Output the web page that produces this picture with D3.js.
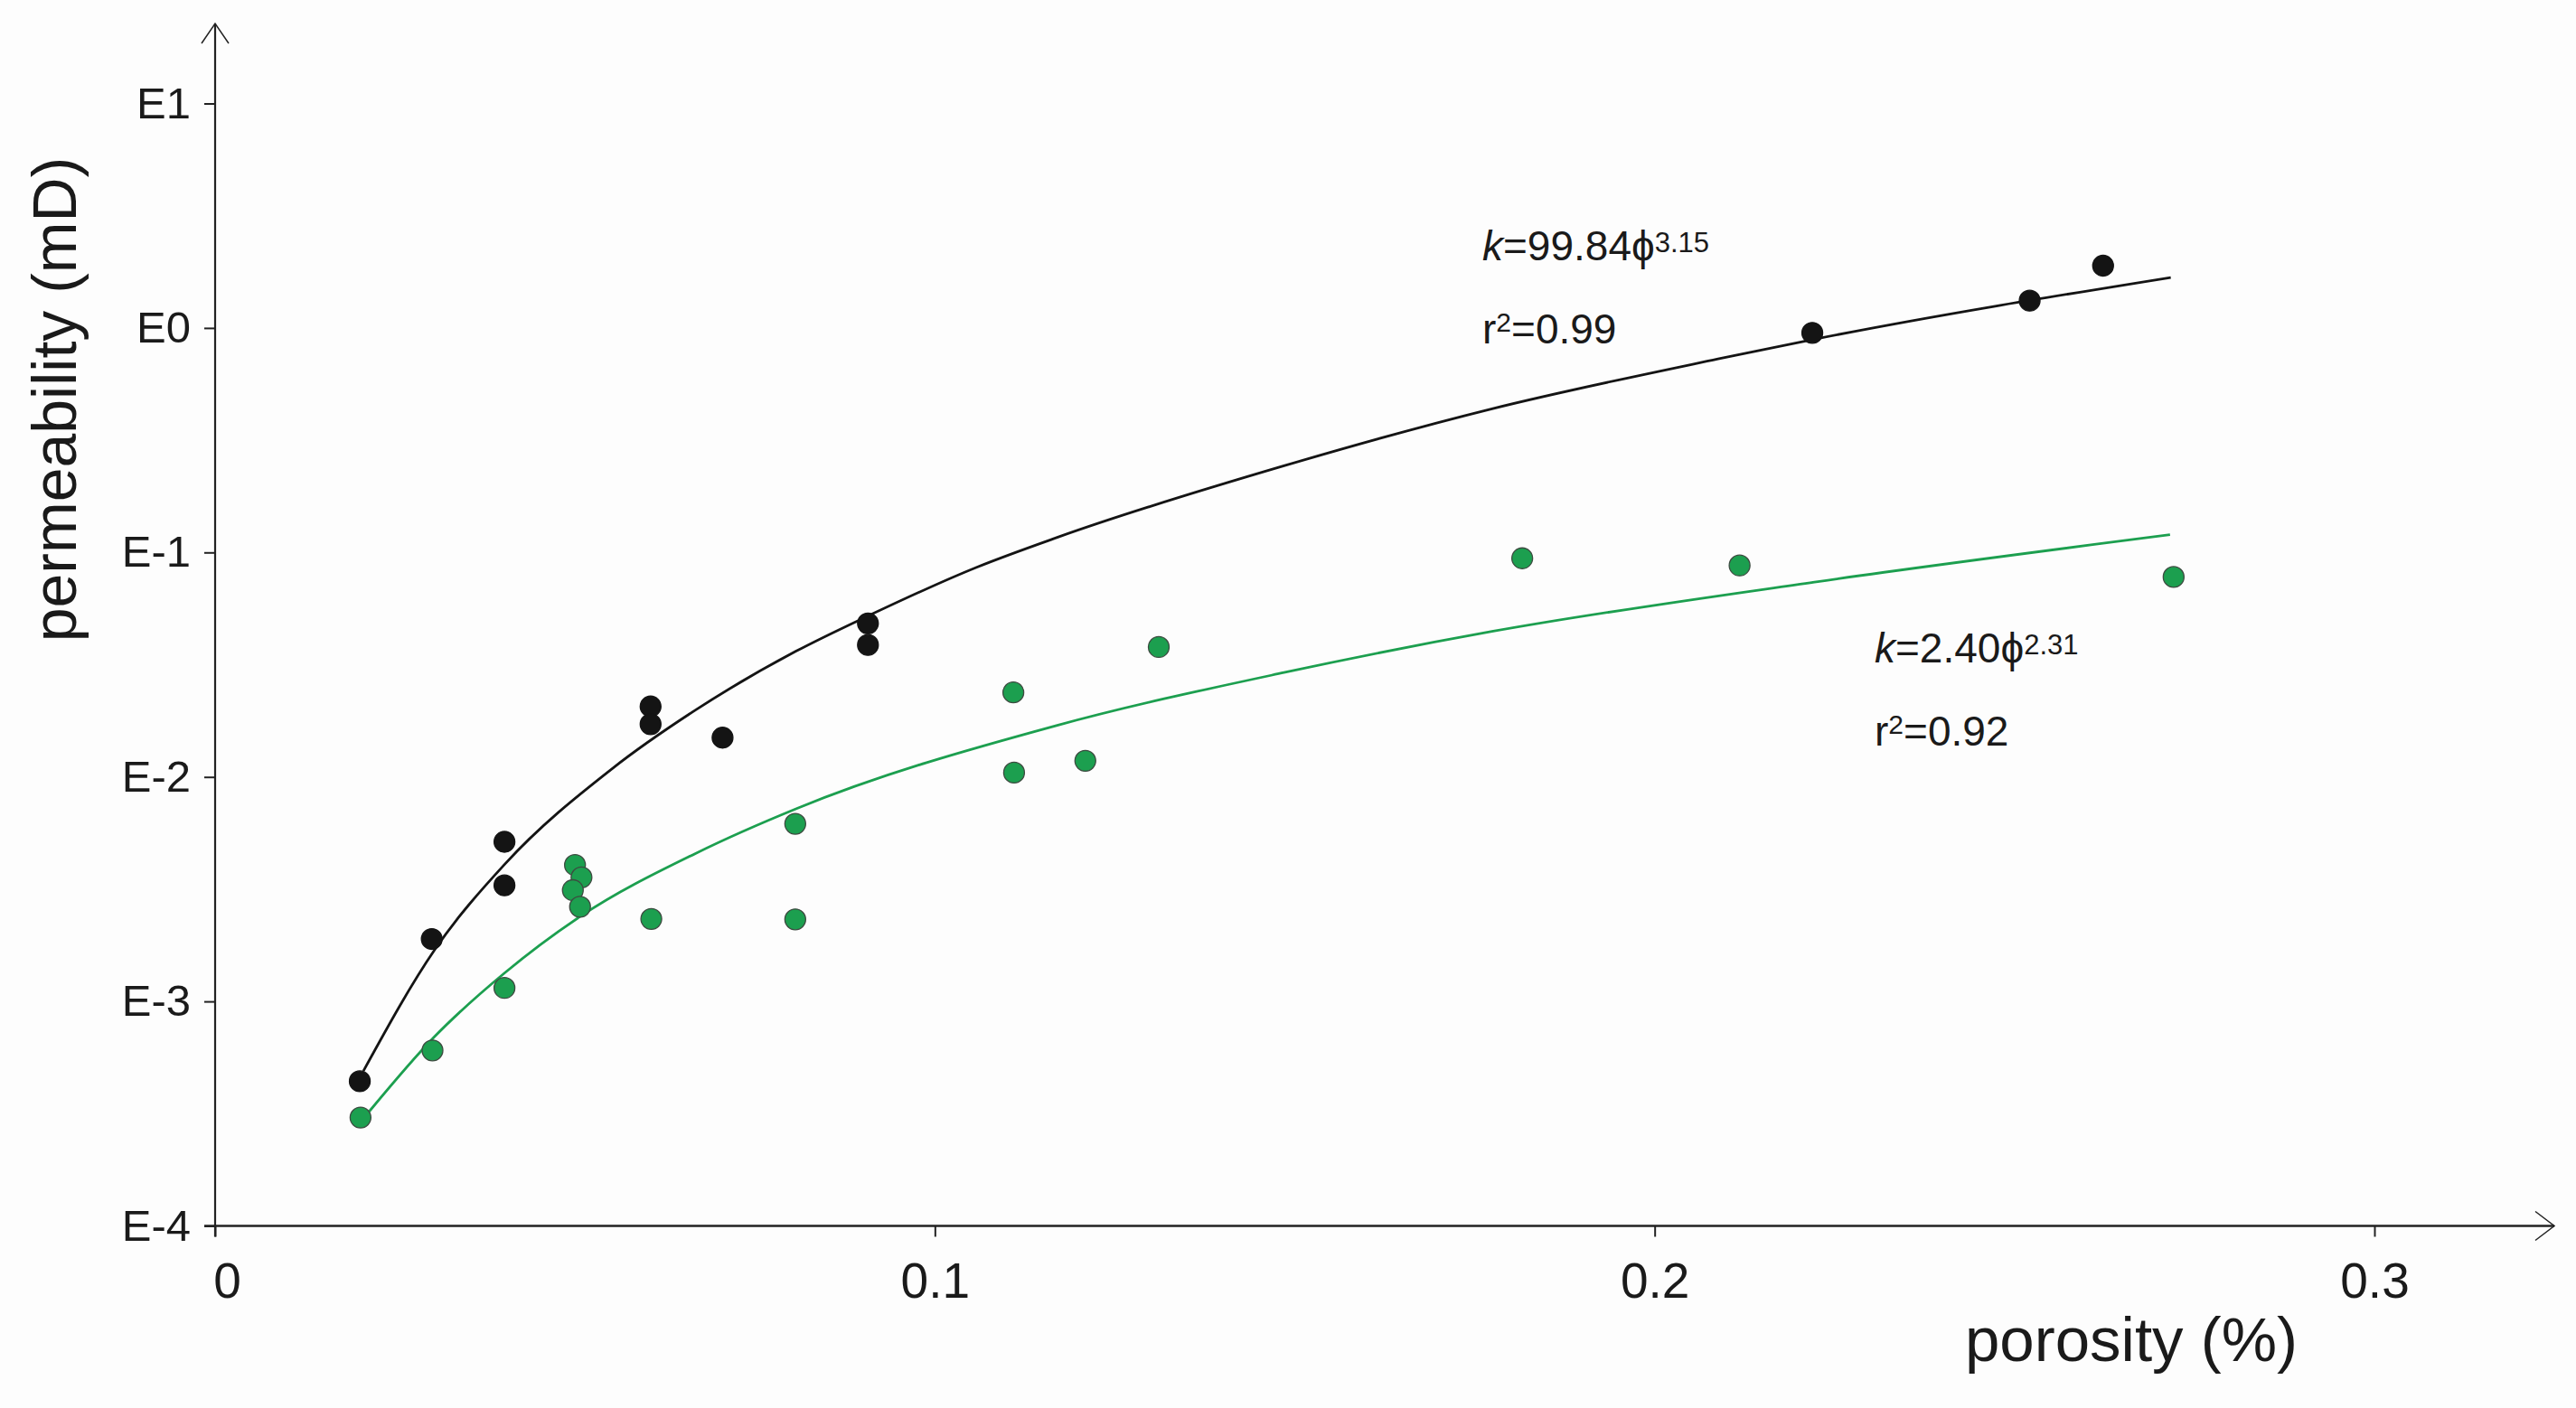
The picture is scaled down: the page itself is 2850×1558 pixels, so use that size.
<!DOCTYPE html>
<html>
<head>
<meta charset="utf-8">
<script src="https://cdn.jsdelivr.net/npm/d3@7"></script>
<style>
  html, body { margin: 0; padding: 0; background: #fdfdfd; }
  svg { display: block; font-family: "Liberation Sans", Arial, sans-serif; }
</style>
</head>
<body>
<svg id="chart" width="2850" height="1558"></svg>
<script>
// porosity (fraction) and permeability (mD)
const blackPorosity = [0.0201, 0.0301, 0.0402, 0.0402, 0.0605, 0.0605, 0.0705, 0.0907, 0.0907, 0.2219, 0.2521, 0.2623];
const blackPerm = [0.000441, 0.001897, 0.00514, 0.00329, 0.0206, 0.01718, 0.01496, 0.0483, 0.0387, 0.951, 1.323, 1.894];

const greenPorosity = [0.0202, 0.0302, 0.0402, 0.0500, 0.0509, 0.0497, 0.0507, 0.0606, 0.0806, 0.0806, 0.1109, 0.1110, 0.1209, 0.1311, 0.1816, 0.2118, 0.2721];
const greenPerm = [0.000304, 0.000605, 0.001148, 0.00405, 0.00357, 0.00313, 0.00264, 0.00233, 0.00618, 0.00232, 0.0238, 0.01045, 0.0118, 0.0379, 0.0942, 0.0875, 0.0778];

// fitted trend lines, sampled along the drawn curves
const blackFitPorosity = [0.0206, 0.0305, 0.0402, 0.0552, 0.0668, 0.0807, 0.0907, 0.1058, 0.117, 0.1485, 0.1774, 0.2088, 0.2222, 0.2717];
const blackFitPerm = [0.000490, 0.001698, 0.004074, 0.01091, 0.01991, 0.03631, 0.05212, 0.0859, 0.1167, 0.2432, 0.4365, 0.7278, 0.8913, 1.679];
const greenFitPorosity = [0.0214, 0.0304, 0.0402, 0.0509, 0.0668, 0.0807, 0.117, 0.1485, 0.1774, 0.2222, 0.2716];
const greenFitPerm = [0.000323, 0.000692, 0.001337, 0.00241, 0.00457, 0.00721, 0.01698, 0.02917, 0.04446, 0.07379, 0.1199];

const xTicks = [0, 0.1, 0.2, 0.3];
const yTicks = [1e-4, 1e-3, 1e-2, 1e-1, 1, 10];

const black = "#141414";
const green = "#1c9f4f";

const svg = d3.select("#chart");
svg.append("rect").attr("width", 2850).attr("height", 1558).attr("fill", "#fdfdfd");

const x = d3.scaleLinear().domain([0, 0.3]).range([238, 2627]);
const y = d3.scaleLog().domain([1e-4, 10]).range([1356.5, 114.5]);

const axisColor = "#222";

// y axis ticks and labels
const yAxis = svg.append("g")
  .attr("transform", `translate(${x(0)},0)`)
  .call(d3.axisLeft(y).tickValues(yTicks).tickSize(12).tickPadding(15)
    .tickFormat((d) => "E" + Math.round(Math.log10(d))));
yAxis.select(".domain").remove();
yAxis.selectAll(".tick line").attr("stroke", axisColor).attr("stroke-width", 2);
yAxis.selectAll(".tick text")
  .attr("fill", "#1a1a1a")
  .style("font-size", "49px")
  .style("font-family", "'Liberation Sans', Arial, sans-serif");

// x axis ticks and labels
const xAxis = svg.append("g")
  .attr("transform", `translate(0,${y(1e-4)})`)
  .call(d3.axisBottom(x).tickValues(xTicks).tickSize(12).tickPadding(28)
    .tickFormat((d) => (d === 0 ? "0" : d3.format(".1f")(d))));
xAxis.select(".domain").remove();
xAxis.selectAll(".tick line").attr("stroke", axisColor).attr("stroke-width", 2);
xAxis.selectAll(".tick text")
  .attr("fill", "#1a1a1a")
  .attr("dx", (d) => (d === 0 ? 13 : 0))
  .style("font-size", "55px")
  .style("font-family", "'Liberation Sans', Arial, sans-serif");

// axis lines with open arrow heads
const yTop = 26;
const xRight = 2826;
svg.append("line")
  .attr("x1", x(0)).attr("x2", x(0))
  .attr("y1", yTop).attr("y2", y(1e-4) + 12)
  .attr("stroke", axisColor).attr("stroke-width", 2.2);
svg.append("line")
  .attr("x1", x(0) - 12).attr("x2", xRight)
  .attr("y1", y(1e-4)).attr("y2", y(1e-4))
  .attr("stroke", axisColor).attr("stroke-width", 2.4);
svg.append("path")
  .attr("d", `M${x(0) - 15},${yTop + 22}L${x(0)},${yTop}L${x(0) + 15},${yTop + 22}`)
  .attr("fill", "none").attr("stroke", axisColor).attr("stroke-width", 1.5);
svg.append("path")
  .attr("d", `M${xRight - 21},${y(1e-4) - 16}L${xRight},${y(1e-4)}L${xRight - 21},${y(1e-4) + 16}`)
  .attr("fill", "none").attr("stroke", axisColor).attr("stroke-width", 1.5);

// axis titles
svg.append("text")
  .attr("transform", "translate(84,442) rotate(-90)")
  .attr("text-anchor", "middle")
  .attr("fill", "#1a1a1a")
  .style("font-size", "68px")
  .text("permeability (mD)");
svg.append("text")
  .attr("x", 2358).attr("y", 1506)
  .attr("text-anchor", "middle")
  .attr("fill", "#1a1a1a")
  .style("font-size", "69px")
  .text("porosity (%)");

// trend lines
const line = d3.line()
  .x((d) => x(d[0]))
  .y((d) => y(d[1]))
  .curve(d3.curveMonotoneX);

svg.append("path")
  .datum(d3.zip(blackFitPorosity, blackFitPerm))
  .attr("d", line)
  .attr("fill", "none").attr("stroke", black).attr("stroke-width", 2.8);
svg.append("path")
  .datum(d3.zip(greenFitPorosity, greenFitPerm))
  .attr("d", line)
  .attr("fill", "none").attr("stroke", green).attr("stroke-width", 2.8);

// sample points
function drawDots(porosity, perm, fill, stroke) {
  svg.append("g")
    .selectAll("circle")
    .data(d3.zip(porosity, perm))
    .enter()
    .append("circle")
    .attr("cx", (d) => x(d[0]))
    .attr("cy", (d) => y(d[1]))
    .attr("r", 11.5)
    .attr("fill", fill)
    .attr("stroke", stroke)
    .attr("stroke-width", 1.3);
}
drawDots(greenPorosity, greenPerm, green, "#3d4a40");
drawDots(blackPorosity, blackPerm, black, black);

// equation labels
function drawEquation(px, py, coef, expo, r2) {
  const g = svg.append("g").attr("fill", "#1a1a1a").style("font-size", "46px");
  const t1 = g.append("text").attr("x", px).attr("y", py);
  t1.append("tspan").style("font-style", "italic").text("k");
  t1.append("tspan").text("=" + coef + "\u03D5");
  t1.append("tspan").attr("dy", -9).style("font-size", "31px").text(expo);
  const t2 = g.append("text").attr("x", px).attr("y", py + 92);
  t2.append("tspan").text("r");
  t2.append("tspan").attr("dy", -13).style("font-size", "30px").text("2");
  t2.append("tspan").attr("dy", 13).text("=" + r2);
}
drawEquation(1640, 288, "99.84", "3.15", "0.99");
drawEquation(2074, 733, "2.40", "2.31", "0.92");
</script>
</body>
</html>
